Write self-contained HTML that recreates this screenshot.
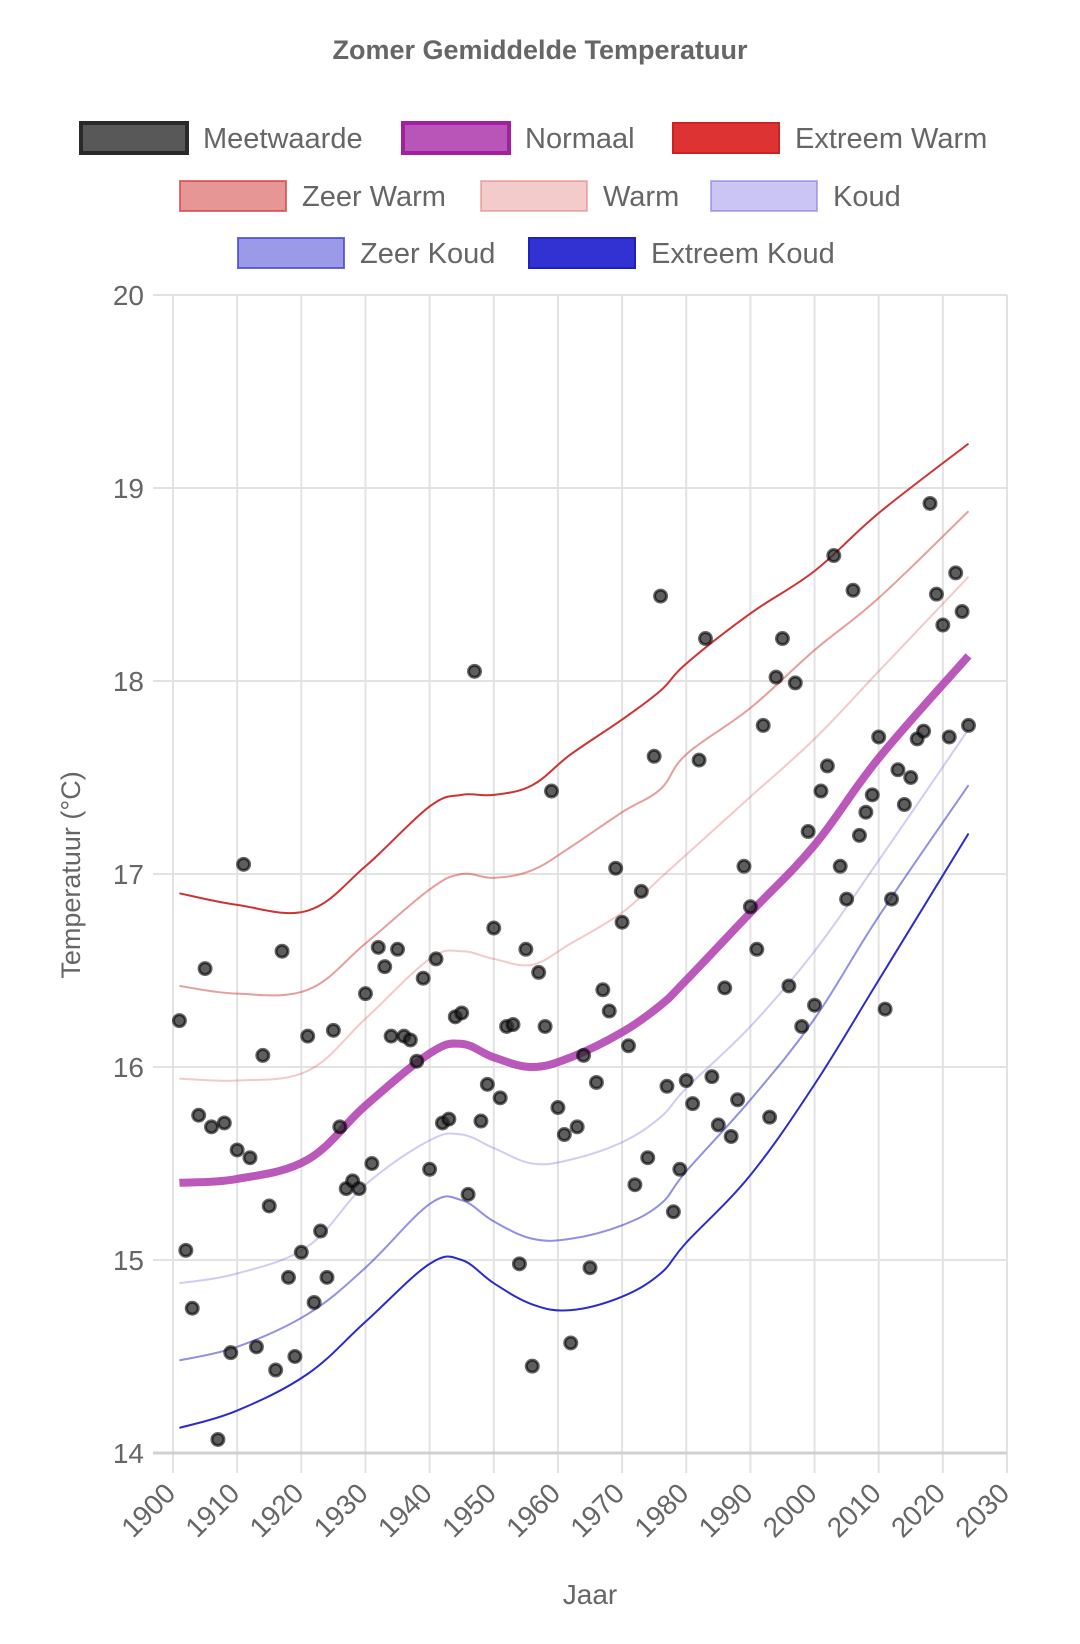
<!DOCTYPE html>
<html><head><meta charset="utf-8"><style>
html,body{margin:0;padding:0;background:#fff;}
svg{display:block;font-family:"Liberation Sans",sans-serif;}
</style></head><body>
<svg id="chart" width="1080" height="1644" viewBox="0 0 1080 1644" xmlns="http://www.w3.org/2000/svg">
<text x="540" y="59" text-anchor="middle" font-size="27" font-weight="bold" fill="#666">Zomer Gemiddelde Temperatuur</text>
<g id="legend"></g>
<g id="grid"></g>
<g id="lines"></g>
<g id="points"></g>
<g id="axes"></g>
<text transform="translate(80,875) rotate(-90)" text-anchor="middle" font-size="27" fill="#666">Temperatuur (°C)</text>
<text x="590" y="1604" text-anchor="middle" font-size="28" fill="#666">Jaar</text>
</svg>
<script>
const xTicks = [1900,1910,1920,1930,1940,1950,1960,1970,1980,1990,2000,2010,2020,2030];
const yTicks = [14,15,16,17,18,19,20];
const lineYears = [1901,1910,1921,1930,1940,1945,1950,1956,1962,1970,1976,1980,1990,2000,2010,2024];
const extreemWarm = [16.90,16.84,16.81,17.04,17.35,17.41,17.41,17.46,17.62,17.80,17.95,18.09,18.35,18.57,18.87,19.23];
const zeerWarm = [16.42,16.38,16.40,16.64,16.92,17.00,16.98,17.02,17.14,17.32,17.44,17.62,17.86,18.16,18.43,18.88];
const warm = [15.94,15.93,15.98,16.25,16.56,16.60,16.56,16.53,16.64,16.80,16.98,17.10,17.40,17.70,18.05,18.54];
const normaal = [15.40,15.42,15.52,15.80,16.07,16.12,16.05,16.00,16.05,16.18,16.32,16.45,16.80,17.15,17.60,18.13];
const koud = [14.88,14.93,15.07,15.39,15.62,15.65,15.58,15.50,15.52,15.61,15.74,15.89,16.21,16.60,17.07,17.75];
const zeerKoud = [14.48,14.55,14.72,14.96,15.29,15.31,15.20,15.11,15.11,15.18,15.29,15.46,15.83,16.25,16.78,17.46];
const extreemKoud = [14.13,14.22,14.41,14.68,14.98,15.00,14.88,14.77,14.74,14.81,14.93,15.09,15.44,15.91,16.45,17.21];
const pointYears = [];
for (let y=1901;y<=2024;y++) pointYears.push(y);
const meetwaarde = [16.24,15.05,14.75,15.75,16.51,15.69,14.07,15.71,14.52,15.57,17.05,15.53,14.55,16.06,15.28,14.43,16.60,14.91,14.50,15.04,
16.16,14.78,15.15,14.91,16.19,15.69,15.37,15.41,15.37,16.38,15.50,16.62,16.52,16.16,16.61,16.16,16.14,16.03,16.46,15.47,
16.56,15.71,15.73,16.26,16.28,15.34,18.05,15.72,15.91,16.72,15.84,16.21,16.22,14.98,16.61,14.45,16.49,16.21,17.43,15.79,
15.65,14.57,15.69,16.06,14.96,15.92,16.40,16.29,17.03,16.75,16.11,15.39,16.91,15.53,17.61,18.44,15.90,15.25,15.47,15.93,
15.81,17.59,18.22,15.95,15.70,16.41,15.64,15.83,17.04,16.83,16.61,17.77,15.74,18.02,18.22,16.42,17.99,16.21,17.22,16.32,
17.43,17.56,18.65,17.04,16.87,18.47,17.20,17.32,17.41,17.71,16.30,16.87,17.54,17.36,17.50,17.70,17.74,18.92,18.45,18.29,
17.71,18.56,18.36,17.77];

const NS="http://www.w3.org/2000/svg";
const X0=173,X1=1007,Y0=1453,Y1=295;
const xs=v=>X0+(v-1900)/(2030-1900)*(X1-X0);
const ys=v=>Y0-(v-14)/(20-14)*(Y0-Y1);
function mk(tag,attrs,parent){const e=document.createElementNS(NS,tag);for(const k in attrs)e.setAttribute(k,attrs[k]);parent.appendChild(e);return e;}
const grid=document.getElementById('grid'),axes=document.getElementById('axes');
xTicks.forEach(t=>{
  const l=mk('line',{x1:xs(t),x2:xs(t),y1:Y1,y2:Y0+20,stroke:'#e2e2e2','stroke-width':2},grid);
  
  
  const tx=mk('text',{transform:`translate(${xs(t)+4},${Y0+42}) rotate(-45)`,'text-anchor':'end','font-size':28,fill:'#666'},axes);
  tx.textContent=t;
  
  
});
yTicks.forEach(t=>{
  const l=mk('line',{x1:X0-20,x2:X1,y1:ys(t),y2:ys(t),stroke:t===14?'#d0d0d0':'#e2e2e2','stroke-width':t===14?3:2},grid);
  
  
  const tx=mk('text',{x:X0-29,y:ys(t)+10,'text-anchor':'end','font-size':28,fill:'#666'},axes);
  tx.textContent=t;
  
  
});
function smooth(vals){
  const p=lineYears.map((y,i)=>[xs(y),ys(vals[i])]);
  let d=`M${p[0][0]},${p[0][1]}`;
  for(let i=0;i<p.length-1;i++){
    const a=p[Math.max(0,i-1)],b=p[i],c=p[i+1],e=p[Math.min(p.length-1,i+2)];
    const t=0.18;
    d+=` C${b[0]+(c[0]-a[0])*t},${b[1]+(c[1]-a[1])*t} ${c[0]-(e[0]-b[0])*t},${c[1]-(e[1]-b[1])*t} ${c[0]},${c[1]}`;
  }
  return d;
}
const series=[
 ['extreem-koud-line',extreemKoud,'#2b2bcc',2],
 ['zeer-koud-line',zeerKoud,'rgba(70,70,210,0.6)',2],
 ['koud-line',koud,'rgba(120,110,220,0.35)',2],
 ['warm-line',warm,'rgba(220,100,100,0.35)',2],
 ['zeer-warm-line',zeerWarm,'rgba(210,60,60,0.5)',2],
 ['extreem-warm-line',extreemWarm,'#cf3232',2],
 ['normaal-line',normaal,'rgba(175,60,175,0.85)',8],
];
const lines=document.getElementById('lines');
series.forEach(s=>{
  const p=mk('path',{d:smooth(s[1]),fill:'none',stroke:s[2],'stroke-width':s[3],'stroke-linejoin':'round'},lines);
  
  
});
const pts=document.getElementById('points');
pointYears.forEach((y,i)=>{
  const c=mk('circle',{cx:xs(y),cy:ys(meetwaarde[i]),r:6,fill:'rgba(40,40,40,0.75)',stroke:'rgba(0,0,0,0.6)','stroke-width':3},pts);
  
  
});
const legendItems=[
 ['Meetwaarde',81,138,'rgba(70,70,70,0.9)','#2a2a2a',4],
 ['Normaal',403,138,'rgba(185,85,185,1)','#a020a0',4],
 ['Extreem Warm',673,138,'#d33','#c22',2],
 ['Zeer Warm',180,196,'rgba(215,80,80,0.6)','rgba(210,60,60,0.7)',2],
 ['Warm',481,196,'rgba(230,140,140,0.45)','rgba(225,120,120,0.5)',2],
 ['Koud',711,196,'rgba(150,140,230,0.5)','rgba(130,120,225,0.55)',2],
 ['Zeer Koud',238,253,'rgba(100,100,220,0.65)','rgba(70,70,210,0.8)',2],
 ['Extreem Koud',529,253,'#3232d2','#2020c0',2],
];
const lg=document.getElementById('legend');
legendItems.forEach(it=>{
  const g=mk('g',{},lg);
  
  
  mk('rect',{x:it[1],y:it[2]-15,width:106,height:30,fill:it[3],stroke:it[4],'stroke-width':it[5]},g);
  const t=mk('text',{x:it[1]+122,y:it[2]+10,'font-size':29,fill:'#666'},g);
  t.textContent=it[0];
});
</script>
</body></html>
